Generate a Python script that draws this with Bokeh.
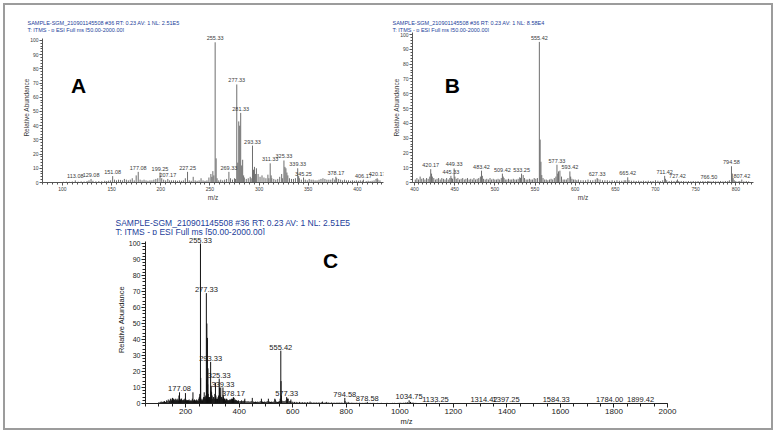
from bokeh.plotting import figure
from bokeh.models import Range1d, SingleIntervalTicker, Label, LabelSet, ColumnDataSource
from bokeh.layouts import column, row
from bokeh.core.properties import value
from bokeh.embed import file_html
from bokeh.resources import INLINE

FONT = "Liberation Sans"
BLUE = "#23409a"

# ---------------- Panel A (m/z 80-425) ----------------
a_label_mz = [113.08, 129.08, 151.08, 177.08, 199.25, 207.17, 227.25, 255.33, 269.33,
              277.33, 281.33, 293.33, 311.33, 325.33, 339.33, 345.25, 378.17, 406.17, 420.17]
a_label_int = [1.5, 2.5, 4.5, 7.5, 7, 2.5, 7.5, 98.7, 7.5,
               69, 49, 26, 13.5, 15.5, 10, 3.5, 4, 2, 3]
a_minor_mz = [101, 104, 107, 110, 116, 119, 122, 125, 127, 131, 134, 137, 140, 143, 145, 147, 149,
              153, 155, 157, 159, 161, 163, 165, 167, 169, 171, 173, 175, 179, 181, 183, 185, 187,
              189, 191, 193, 195, 197, 201, 203, 205, 209, 211, 213, 215, 217, 219, 221, 223, 225,
              229, 231, 233, 235, 237, 239, 241, 243, 245, 247, 249, 251, 252, 253, 254, 256.33,
              257.3, 259, 261, 263, 265, 267, 271, 273, 275, 276, 278.33, 279.33, 280.33, 282.33,
              283.33, 284.3, 285, 287, 289, 291, 292, 294.33, 295.33, 296.3, 297.3, 299, 301, 303,
              305, 307, 309, 310, 312.3, 313, 315, 317, 319, 321, 323, 324, 326.33, 327.33, 328.33,
              329.3, 331, 333, 335, 337, 340.3, 341, 343, 347, 349, 351, 353, 355, 357, 359, 361,
              363, 365, 367, 369, 371, 373, 375, 377, 379, 381, 383, 385, 387, 389, 391, 393, 395,
              397, 399, 401, 403, 405, 409, 411, 413, 415, 417, 419, 421, 423, 425]
a_minor_int = [0.5, 0.6, 0.5, 0.7, 0.6, 0.8, 0.7, 1.0, 1.5, 1.2, 0.8, 1.0, 0.9, 1.2, 1.0, 1.3, 1.5,
               2.0, 1.5, 2.0, 1.8, 1.5, 2.5, 2.0, 1.5, 2.0, 3.0, 1.5, 5.0, 2.0, 1.5, 2.0, 1.5, 1.2,
               1.5, 1.5, 2.0, 2.5, 3.0, 3.0, 2.0, 1.5, 1.5, 1.5, 1.5, 1.5, 1.2, 1.5, 1.2, 1.5, 3.0,
               1.5, 1.2, 4.0, 1.5, 1.2, 1.5, 3.0, 1.5, 1.2, 1.5, 3.5, 6.0, 4.0, 8.0, 5.0, 17,
               3.0, 1.5, 2.0, 1.5, 2.0, 2.5, 3.0, 2.0, 3.0, 2.5, 14, 43, 40, 12,
               16, 5.0, 3.5, 2.5, 3.0, 4.0, 3.0, 9.0, 11, 6.0, 10, 6.0, 4.0, 5.0,
               3.5, 3.0, 5.5, 3.0, 5.0, 3.0, 2.5, 2.0, 2.5, 4.0, 6.0, 3.0, 11, 10, 7.0,
               5.0, 3.0, 2.5, 2.5, 3.0, 4.5, 3.0, 2.0, 2.0, 1.5, 2.5, 2.0, 2.0, 1.5, 1.5, 2.0,
               2.5, 3.0, 2.5, 2.0, 2.0, 2.0, 3.0, 2.0, 3.0, 2.5, 2.0, 1.5, 2.0, 1.5, 1.5, 1.2, 1.5,
               1.2, 1.5, 1.2, 1.5, 1.2, 1.0, 1.2, 1.0, 1.2, 1.5, 2.5, 2.0, 1.5]

# ---------------- Panel B (m/z 400-820) ----------------
b_label_mz = [420.17, 445.33, 449.33, 483.42, 509.42, 533.25, 555.42, 577.33, 593.42,
              627.33, 665.42, 711.42, 727.42, 766.50, 794.58, 807.42]
b_label_int = [9, 4.5, 9.5, 8, 6, 6, 95, 12, 7.5, 3, 3.5, 4.5, 2, 1, 11, 2]
b_minor_mz = [401, 403, 405, 407, 409, 411, 413, 415, 417, 419, 421.2, 422.2, 424, 426, 428, 430,
              432, 434, 436, 438, 440, 442, 444, 446.3, 447.3, 450.3, 452, 454, 456, 458, 460, 462,
              464, 466, 468, 470, 472, 474, 476, 478, 480, 482, 484.4, 486, 488, 490, 492, 494,
              496, 498, 500, 502, 504, 506, 508, 510.4, 511.4, 513, 515, 517, 519, 521, 523, 525,
              527, 529, 531, 532, 535.3, 537, 539, 541, 543, 545, 547, 549, 551, 553, 556.4,
              557.4, 558.4, 560, 562, 564, 566, 568, 570, 572, 574, 576, 578.3, 579.3, 581, 583,
              585, 587, 589, 591, 594.4, 596, 598, 600, 602, 604, 607, 610, 613, 616, 619, 622,
              625, 628.3, 631, 634, 637, 640, 643, 646, 649, 652, 655, 658, 661, 663, 667, 670,
              673, 676, 679, 682, 685, 688, 691, 694, 697, 700, 703, 706, 709, 712.4, 714, 717,
              720, 723, 726, 729, 732, 735, 738, 741, 744, 747, 750, 753, 756, 759, 762, 765,
              769, 772, 775, 778, 781, 784, 787, 790, 792, 795.6, 796.6, 798, 800, 803, 805, 810,
              813, 816]
b_minor_int = [2, 3, 2, 4, 2.5, 3, 2, 3, 2.5, 4, 6, 4, 3, 2, 2.5, 3,
               2, 3, 2.5, 2, 3, 2, 3, 3, 2.5, 4, 2.5, 3, 2, 2.5, 3, 2,
               2.5, 3, 2, 2.5, 2, 3, 2, 2.5, 3, 4, 4.5, 2.5, 2, 2.5, 2, 3,
               2, 2.5, 2, 2, 2.5, 2, 3, 4, 3, 2, 2, 2.5, 2, 2, 2.5, 2,
               2, 2.5, 3.5, 3, 5, 3, 2, 2, 2.5, 2, 2, 3, 2.5, 3, 29,
               14, 5, 3, 2, 2, 1.5, 2, 2.5, 2, 3, 4, 6, 7.5, 8, 4,
               2, 2, 2, 3, 4, 2.5, 2, 2, 1.5, 2, 1.5, 1.5, 1.5, 2, 1.5, 1.5,
               2, 2.5, 2, 1.5, 1.5, 1.5, 1.2, 1.5, 1.2, 1.5, 1.2, 1.2, 1.5, 1.5, 1.5, 1.2,
               1.2, 1, 1.2, 1, 1.2, 1, 1.2, 1, 1, 1.5, 1.2, 1, 1.5, 2.5, 1.5, 1,
               1.2, 1, 1.2, 1, 1, 1, 0.8, 1, 0.8, 1, 0.8, 1, 0.8, 1, 0.8, 1,
               0.8, 1, 0.8, 0.8, 1, 0.8, 1, 1, 1.5, 6, 3, 1.5, 1, 0.8, 1, 0.8,
               1, 0.8]

# ---------------- Panel C (m/z 50-2000) ----------------
c_label_mz = [177.08, 255.33, 277.33, 293.33, 325.33, 339.33, 378.17, 555.42, 577.33,
              794.58, 878.58, 1034.75, 1133.25, 1314.42, 1397.25, 1584.33, 1784.00, 1899.42]
c_label_int = [7, 100, 69, 26, 15.5, 10, 4, 33, 4, 3.5, 1, 2, 0.5, 0.4, 0.4, 0.3, 0.3, 0.3]
c_minor_mz = [100, 105, 109, 113, 117, 121, 125, 129, 131, 135, 139, 141, 143, 147, 149, 151,
              153, 155, 157, 159, 161, 163, 165, 167, 169, 171, 173, 175, 179, 181, 183, 185,
              187, 189, 191, 193, 195, 197, 199.25, 201, 203, 205, 207, 209, 211, 213, 215, 217,
              219, 221, 223, 225, 227.25, 229, 231, 233, 235, 237, 239, 241, 243, 245, 247, 249,
              251, 253, 254, 256.33, 257.3, 259, 261, 263, 265, 267, 269.33, 271, 273, 275, 276,
              278.33, 279.33, 280.33, 281.33, 282.33, 283.33, 284.3, 285, 287, 289, 291, 292,
              294.33, 295.33, 297, 299, 301, 303, 305, 307, 309, 311.33, 312.3, 313, 315, 317,
              319, 321, 323, 326.3, 327.3, 329, 331, 333, 335, 337, 340.3, 341, 343, 345, 347,
              349, 351, 353, 355, 357, 359, 361, 363, 365, 367, 369, 371, 373, 375, 377, 379,
              381, 383, 385, 387, 389, 391, 393, 395, 397, 399, 403, 406, 409, 413, 417, 419,
              421, 425, 429, 433, 437, 441, 445, 449, 453, 457, 461, 465, 469, 473, 477, 481,
              483, 487, 491, 495, 499, 503, 507, 509, 513, 517, 521, 525, 529, 533, 535, 539,
              543, 547, 551, 553, 556.42, 557.42, 559, 563, 567, 571, 575, 579, 581, 583, 587,
              591, 593, 597, 601, 607, 613, 619, 625, 631, 637, 643, 649, 655, 661, 665, 671,
              677, 683, 689, 695, 701, 707, 711, 717, 723, 727, 733, 739, 745, 751, 757, 763,
              769, 775, 781, 787, 795.58, 801, 807, 813, 819, 825, 831, 837, 843, 849, 855, 861,
              867, 873, 885, 891, 897, 903, 910, 917, 924, 931, 938, 945, 952, 959, 966, 973,
              980, 987, 994, 1001, 1008, 1015, 1022, 1028, 1040, 1046, 1052, 1060, 1068, 1076,
              1084, 1095, 1110, 1125, 1150, 1170, 1190, 1215, 1240, 1265, 1290, 1340, 1370,
              1420, 1460, 1500, 1540, 1620, 1680, 1720, 1840, 1940]
c_minor_int = [0.8, 1, 1.2, 1, 1.2, 1.5, 1, 2, 1.5, 2.5, 1.5, 2, 3, 2, 3, 3.5,
               2, 3, 2, 2.5, 2, 3, 2, 2.5, 2, 3, 2, 5, 2, 2.5, 3, 3,
               2, 2, 2, 2.5, 2, 3, 6.5, 2.5, 2, 2, 2, 2, 2, 2.5, 1.5, 2,
               1.5, 2, 1.5, 3, 7, 2, 1.5, 2.5, 1.5, 2, 1.5, 2.5, 1.5, 2, 1.5, 3,
               4, 6, 5, 16, 3, 2, 2.5, 2, 3, 4, 7, 4, 3, 5, 4,
               15, 50, 11, 41, 12, 22, 6, 4, 3, 4, 4, 3,
               8, 11, 7, 5, 3, 4, 4, 3, 6, 13, 4, 5, 3, 2.5,
               3, 4, 5, 10, 7, 5, 10, 4, 4, 3, 5, 4, 3, 3, 3,
               2, 2.5, 3, 2.5, 2, 2, 2, 2, 2.5, 2.5, 2, 3, 2, 3, 2.5, 3.5,
               3.5, 2, 2.5, 2, 2, 2, 1.5, 1.5, 2, 1.5, 1.5, 1.5, 2, 1.5, 1.5, 2,
               3, 1.5, 1.2, 1.5, 1.2, 1.2, 1.5, 3.5, 1.2, 1, 1.2, 1, 1.2, 1, 1.2, 1.5,
               3, 1.2, 1, 1.2, 1, 1.2, 1.5, 3, 1.2, 1, 1.2, 1, 1.2, 3, 2.5, 1.2,
               1, 1.2, 1.5, 3, 14, 5, 2, 1.5, 1.5, 1.5, 2, 3, 3, 3, 1.5,
               1.5, 2.5, 1.2, 1, 1, 1, 0.8, 1, 0.8, 0.8, 0.8, 0.7, 0.8, 0.7, 1.2, 0.7,
               0.6, 0.7, 0.6, 0.7, 0.6, 0.7, 1.2, 0.6, 0.6, 1, 0.6, 0.5, 0.6, 0.5, 0.5, 0.5,
               0.6, 0.5, 0.6, 0.5, 1.5, 0.6, 1, 0.5, 0.5, 0.5, 0.4, 0.5, 0.4, 0.5, 0.4, 0.4,
               0.4, 0.5, 0.4, 0.4, 0.4, 0.4, 0.3, 0.4, 0.3, 0.4, 0.3, 0.3, 0.4, 0.3, 0.3, 0.4,
               0.4, 0.3, 0.4, 0.5, 0.4, 0.5, 0.6, 0.8, 1, 0.6, 0.5, 0.4, 0.3, 0.3,
               0.3, 0.2, 0.2, 0.2, 0.2, 0.2, 0.2, 0.2, 0.2, 0.2, 0.2, 0.2, 0.2,
               0.2, 0.2, 0.2, 0.2, 0.2, 0.2, 0.2, 0.2, 0.2]

header_A = ["SAMPLE-SGM_210901145508 #36  RT: 0.23  AV: 1  NL: 2.51E5",
            "T: ITMS - p ESI Full ms [50.00-2000.00]"]
header_B = ["SAMPLE-SGM_210901145508 #36  RT: 0.23  AV: 1  NL: 8.58E4",
            "T: ITMS - p ESI Full ms [50.00-2000.00]"]
header_C = ["SAMPLE-SGM_210901145508 #36  RT: 0.23  AV: 1  NL: 2.51E5",
            "T: ITMS - p ESI Full ms [50.00-2000.00]"]

# ---------------- layout geometry (page pixels) ----------------
OX, OY = 5, 5          # inside the grey frame
RIGHT, BOTTOM = 771, 428
TOP_STRIP_B = 32       # bottom of header strip of the top row
ROW1_B = 203           # bottom of the top row
C_STRIP_B = 235        # bottom of header strip of panel C

FA = dict(l=42, r=383, t=TOP_STRIP_B, b=183, x0=79.7, x1=426.6, ppu=1.43,
          ox=OX, oy=TOP_STRIP_B, w=390 - OX, h=ROW1_B - TOP_STRIP_B)
FB = dict(l=411, r=753, t=TOP_STRIP_B, b=182, x0=397.5, x1=822, ppu=1.48,
          ox=390, oy=TOP_STRIP_B, w=RIGHT - 390, h=ROW1_B - TOP_STRIP_B)
FC = dict(l=145, r=667, t=C_STRIP_B, b=403, x0=50, x1=2000, ppu=1.6,
          ox=OX, oy=C_STRIP_B, w=RIGHT - OX, h=BOTTOM - C_STRIP_B)


def px2x(px, f):
    return f["x0"] + (px - f["l"]) / (f["r"] - f["l"]) * (f["x1"] - f["x0"])


def py2y(py, f):
    return (f["b"] - py) / f["ppu"]


def strip(y_top, y_bot):
    s = figure(width=RIGHT - OX, height=y_bot - y_top,
               x_range=Range1d(OX, RIGHT), y_range=Range1d(y_bot, y_top),
               x_axis_location=None, y_axis_location=None,
               output_backend="svg", toolbar_location=None,
               min_border=0, min_border_left=0, min_border_right=0,
               min_border_top=0, min_border_bottom=0)
    s.xgrid.visible = False
    s.ygrid.visible = False
    s.outline_line_color = None
    s.background_fill_color = "white"
    s.border_fill_color = "white"
    return s


def header(s, x, ys, lines, fs):
    for txt, yy in zip(lines, ys):
        s.add_layout(Label(x=x, y=yy, text=txt, text_font=FONT, text_font_size=fs,
                           text_color=BLUE, text_align="left", text_baseline="middle"))


def panel(f, xint, xminor, st):
    y1 = (f["b"] - f["t"]) / f["ppu"]
    p = figure(width=f["w"], height=f["h"],
               x_range=Range1d(f["x0"], f["x1"]), y_range=Range1d(0, y1),
               output_backend="svg", toolbar_location=None,
               min_border_left=f["l"] - f["ox"], min_border_right=f["ox"] + f["w"] - f["r"],
               min_border_top=0, min_border_bottom=f["oy"] + f["h"] - f["b"])
    p.xgrid.visible = False
    p.ygrid.visible = False
    p.outline_line_color = None
    p.background_fill_color = "white"
    p.border_fill_color = "white"
    p.xaxis.ticker = SingleIntervalTicker(interval=xint, num_minor_ticks=xminor)
    p.yaxis.ticker = SingleIntervalTicker(interval=10, num_minor_ticks=5)
    p.yaxis.bounds = (0, min(y1, 101.5))
    p.xaxis.axis_label = "m/z"
    p.yaxis.axis_label = "Relative Abundance"
    for ax in (p.xaxis[0], p.yaxis[0]):
        ax.axis_line_color = st["axis"]
        ax.major_tick_line_color = st["axis"]
        ax.minor_tick_line_color = st["axis"]
        ax.major_tick_in = 0
        ax.major_tick_out = st["tick"]
        ax.minor_tick_in = 0
        ax.minor_tick_out = st["tick"] - 1
        ax.major_label_text_font = FONT
        ax.major_label_text_color = st["text"]
        ax.axis_label_text_font = FONT
        ax.axis_label_text_font_size = st["labfs"]
        ax.axis_label_text_font_style = "normal"
        ax.axis_label_text_color = st["text"]
        ax.major_label_standoff = 1
        ax.axis_label_standoff = 0
    p.xaxis.major_label_text_font_size = st["xtickfs"]
    p.yaxis.major_label_text_font_size = st["ytickfs"]
    p.yaxis.axis_label_standoff = st["ylabstand"]
    return p


def add_spectrum(p, f, lab_mz, lab_int, minor_mz, minor_int, letter, letter_xy, st):
    src_minor = ColumnDataSource(dict(mz=minor_mz, it=minor_int))
    src_lab = ColumnDataSource(dict(mz=lab_mz, it=lab_int, txt=["%.2f" % m for m in lab_mz]))
    p.segment(x0="mz", y0=0, x1="mz", y1="it", source=src_minor,
              line_color=st["stick"], line_width=st["lw"])
    p.segment(x0="mz", y0=0, x1="mz", y1="it", source=src_lab,
              line_color=st["stick"], line_width=st["lw"])
    p.add_layout(LabelSet(x="mz", y="it", text="txt", source=src_lab, y_offset=st["loff"],
                          text_align="center", text_baseline="bottom",
                          text_font=value(FONT), text_font_size=value(st["peakfs"]),
                          text_color=st["text"]))
    lx, ly = letter_xy
    p.add_layout(Label(x=px2x(lx, f), y=py2y(ly, f), text=letter, text_font=FONT,
                       text_font_size="21px", text_font_style="bold", text_color="#000000",
                       text_align="center", text_baseline="middle"))


small = dict(axis="#555555", text="#3a3a3a", stick="#6e6e6e", lw=1, tick=3, loff=2,
             xtickfs="5px", ytickfs="5px", labfs="6.5px", peakfs="5.5px", ylabstand=-3)
large = dict(axis="#222222", text="#1a1a1a", stick="#111111", lw=1, tick=4, loff=1,
             xtickfs="8px", ytickfs="7px", labfs="7.5px", peakfs="7.5px", ylabstand=0)

top_strip = strip(OY, TOP_STRIP_B)
header(top_strip, 27, (22.3, 29.0), header_A, "5.5px")
header(top_strip, 392, (22.3, 29.0), header_B, "5.5px")

pA = panel(FA, 50, 10, small)
add_spectrum(pA, FA, a_label_mz, a_label_int, a_minor_mz, a_minor_int, "A", (78, 85), small)

pB = panel(FB, 50, 10, small)
add_spectrum(pB, FB, b_label_mz, b_label_int, b_minor_mz, b_minor_int, "B", (451, 85), small)

c_strip = strip(ROW1_B, C_STRIP_B)
header(c_strip, 115, (222.5, 231.0), header_C, "8.5px")

pC = panel(FC, 200, 4, large)
add_spectrum(pC, FC, c_label_mz, c_label_int, c_minor_mz, c_minor_int, "C", (330, 259.5), large)

layout = column(row(top_strip), row(pA, pB), row(c_strip), row(pC),
                margin=(3, 0, 0, 3),
                styles={"border": "2px solid #9c9c9c"})

open("out.html", "w").write(file_html(layout, INLINE))
